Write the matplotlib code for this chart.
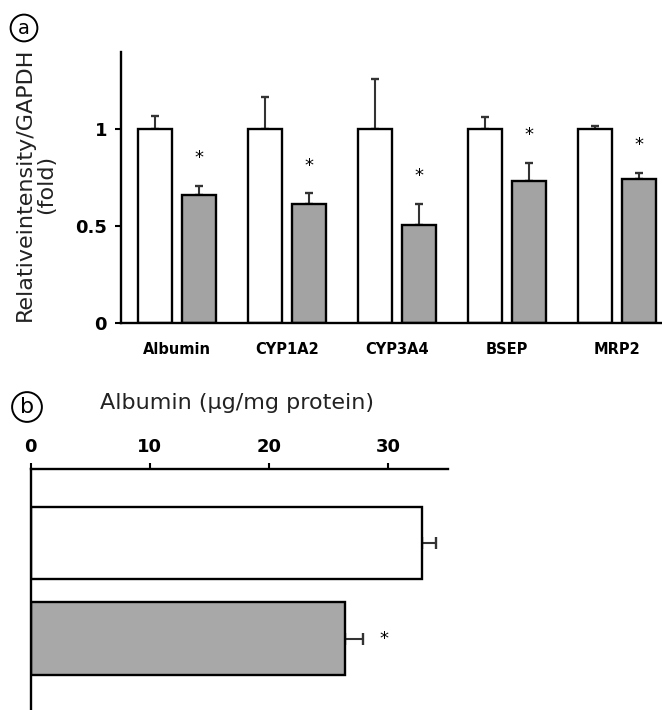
import matplotlib
matplotlib.use("Agg")
import matplotlib.pyplot as plt
import numpy as np

# ---- Data panel (a) ----
genes = ["Albumin", "CYP1A2", "CYP3A4", "BSEP", "MRP2"]
control_vals = [1.0, 1.0, 1.0, 1.0, 1.0]
control_err = [0.067, 0.17, 0.26, 0.064, 0.02]
treated_vals = [0.66, 0.617, 0.508, 0.736, 0.746]
treated_err = [0.05, 0.055, 0.109, 0.093, 0.031]
yticks_a = [0, 0.5, 1]
yticklabels_a = ["0", "0.5", "1"]

# ---- Data panel (b) ----
alb_vals = [32.86, 26.35]
alb_err = [1.17, 1.48]
xticks_b = [0, 10, 20, 30]

plt.rcParams['font.family'] = ['DejaVu Sans']

fig = plt.figure(figsize=(6.62, 7.10), dpi=100)
W, H = 662, 710

def ax_rect(l, t, r, b):
    return [l / W, 1 - b / H, (r - l) / W, (b - t) / H]

# ---------------- Panel a ----------------
ax = fig.add_axes(ax_rect(121, 52, 662, 323))
x = np.arange(len(genes))
off = 0.2
bw = 0.31
gray = "#a3a3a3"
ax.bar(x - off, control_vals, bw, color="white", edgecolor="black", linewidth=1.7, zorder=2)
ax.bar(x + off, treated_vals, bw, color=gray, edgecolor="black", linewidth=1.7, zorder=2)
ax.errorbar(x - off, control_vals, yerr=[np.zeros(len(x)), control_err], fmt="none",
            ecolor="#333333", elinewidth=1.5, capsize=3, capthick=1.7, zorder=1)
ax.errorbar(x + off, treated_vals, yerr=[np.zeros(len(x)), treated_err], fmt="none",
            ecolor="#333333", elinewidth=1.5, capsize=3, capthick=1.7, zorder=1)
for xi, v, e in zip(x, treated_vals, treated_err):
    ax.text(xi + off, v + e + 0.14, "*", ha="center", va="center", fontsize=13)
ax.set_xlim(-0.505, 4.41)
ax.set_ylim(0, 1.4)
ax.set_yticks(yticks_a)
ax.set_yticklabels(yticklabels_a, fontsize=13, fontweight="bold")
ax.set_xticks(x)
ax.set_xticklabels(genes, fontsize=10.5, fontweight="bold")
ax.tick_params(axis="x", length=0, pad=14)
ax.tick_params(axis="y", length=4, width=1.5, pad=6)
for s in ["top", "right"]:
    ax.spines[s].set_visible(False)
for s in ["left", "bottom"]:
    ax.spines[s].set_linewidth(1.7)
fig.text(25 / W, 1 - 184 / H, "Relativeintensity/GAPDH", rotation=90,
         ha="center", va="center", fontsize=16, color="#222222")
fig.text(46 / W, 1 - 184 / H, "(fold)", rotation=90,
         ha="center", va="center", fontsize=16, color="#222222")
fig.text(24 / W, 1 - 28 / H, "a", ha="center", va="center", fontsize=14,
         bbox=dict(boxstyle="circle,pad=0.2", fc="white", ec="black", lw=1.4))

# ---------------- Panel b ----------------
bx = fig.add_axes(ax_rect(30.7, 469, 448, 710))
ypos = np.arange(len(alb_vals))
bh = 0.76
bx.barh(ypos[0], alb_vals[0], bh, color="white", edgecolor="black", linewidth=1.7, zorder=2)
bx.barh(ypos[1], alb_vals[1], bh, color="#a8a8a8", edgecolor="black", linewidth=1.7, zorder=2)
bx.errorbar(alb_vals, ypos, xerr=[np.zeros(len(ypos)), alb_err], fmt="none",
            ecolor="#333333", elinewidth=1.5, capsize=4.5, capthick=1.7, zorder=1)
bx.text(alb_vals[1] + alb_err[1] + 1.8, ypos[1], "*", ha="center", va="center", fontsize=13)
bx.set_xlim(0, 35)
bx.set_ylim(1.745, -0.773)
bx.xaxis.tick_top()
bx.set_xticks(xticks_b)
bx.set_xticklabels([str(t) for t in xticks_b], fontsize=13, fontweight="bold")
bx.tick_params(axis="x", length=4, width=1.5, pad=5)
bx.set_yticks([])
for s in ["bottom", "right"]:
    bx.spines[s].set_visible(False)
for s in ["left", "top"]:
    bx.spines[s].set_linewidth(1.7)
fig.text(237 / W, 1 - 403 / H, "Albumin (µg/mg protein)", ha="center", va="center",
         fontsize=16, color="#222222")
fig.text(27 / W, 1 - 407 / H, "b", ha="center", va="center", fontsize=16,
         bbox=dict(boxstyle="circle,pad=0.22", fc="white", ec="black", lw=1.4))

fig.savefig("out.png", dpi=100)
